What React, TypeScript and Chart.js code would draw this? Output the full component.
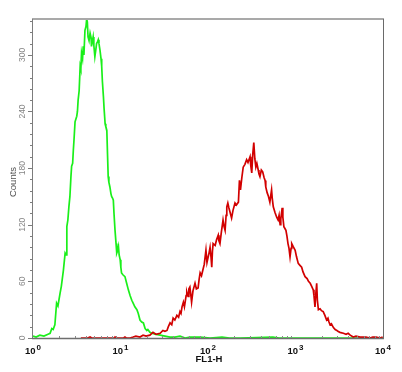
import React, { useEffect, useRef } from 'react';
import { Chart, registerables } from 'chart.js';

Chart.register(...registerables);

// ---- data ----
const X_TICK_EXPONENTS = [0, 1, 2, 3, 4];
const Y_TICKS = [0, 60, 120, 180, 240, 300];
const Y_MINOR_STEP = 12;
const Y_MAX = 338;
const X_TITLE = 'FL1-H';
const Y_TITLE = 'Counts';
const CHANNELS_PER_DECADE = 256; // 1024-channel, 4-decade log histogram

const GREEN_CH = [0, 9, 20, 32, 44, 50, 55, 59, 64, 69, 73, 79, 83, 89, 94, 97, 99, 102, 105, 108, 111, 113, 116, 118, 120, 123, 128, 130, 132, 135, 138, 140, 142, 145, 147, 149, 152, 155, 157, 159, 161, 164, 167, 170, 171, 174, 176, 178, 181, 184, 186, 189, 191, 193, 196, 199, 201, 203, 206, 208, 211, 213, 216, 218, 220, 222, 225, 228, 230, 233, 235, 237, 240, 243, 245, 247, 250, 252, 255, 257, 259, 263, 269, 274, 279, 284, 289, 293, 298, 304, 308, 313, 318, 323, 328, 333, 336, 342, 348, 357, 372, 386, 401, 415, 430, 445, 459, 489, 518, 553, 575, 606, 702, 720, 1023];
const GREEN_COUNTS = [2, 1, 3, 2, 4, 5, 10, 9, 14, 37, 34, 47, 55, 72, 90, 88, 118, 125, 139, 150, 171, 182, 185, 199, 210, 229, 235, 240, 252, 262, 288, 285, 302, 296, 309, 300, 326, 330, 338, 335, 319, 315, 323, 318, 309, 315, 319, 310, 298, 306, 312, 314, 316, 312, 305, 296, 288, 272, 256, 243, 227, 224, 220, 195, 171, 165, 160, 153, 150, 148, 146, 132, 114, 100, 90, 92, 97, 88, 83, 75, 69, 67, 65, 58, 51, 45, 40, 37, 33, 30, 26, 19, 17, 16, 10, 8, 9, 6, 5, 4, 3, 2, 1, 1, 2, 0, 1, 1, 0, 1, 0, 0, 1, 0, 0];

const RED_CH = [140, 160, 167, 172, 238, 240, 243, 265, 269, 273, 284, 293, 301, 313, 322, 331, 342, 351, 360, 372, 380, 386, 392, 396, 401, 406, 410, 415, 421, 426, 430, 433, 436, 440, 443, 448, 450, 454, 456, 459, 462, 464, 468, 474, 478, 483, 486, 489, 493, 497, 501, 506, 509, 512, 515, 518, 521, 523, 525, 527, 533, 537, 542, 544, 547, 551, 556, 559, 562, 565, 567, 570, 573, 576, 581, 585, 591, 595, 601, 604, 606, 607, 611, 615, 620, 625, 629, 635, 637, 640, 643, 646, 649, 652, 655, 659, 661, 664, 668, 672, 676, 679, 681, 685, 689, 693, 696, 698, 700, 703, 708, 713, 717, 720, 723, 725, 729, 731, 734, 737, 740, 743, 746, 749, 752, 755, 757, 761, 767, 771, 776, 781, 786, 790, 796, 802, 806, 811, 815, 820, 822, 825, 827, 830, 832, 835, 840, 844, 849, 854, 859, 863, 866, 869, 873, 879, 884, 889, 892, 898, 908, 916, 922, 928, 937, 945, 957, 966, 974, 986, 994, 1004, 1015, 1023];
const RED_COUNTS = [0, 0, 1, 0, 0, 1, 0, 0, 1, 0, 0, 1, 2, 1, 3, 2, 3, 6, 4, 5, 8, 7, 8, 12, 16, 14, 21, 19, 24, 22, 28, 26, 33, 38, 33, 45, 49, 44, 52, 54, 45, 38, 50, 58, 52, 53, 62, 69, 66, 72, 78, 93, 80, 85, 90, 96, 85, 75, 92, 100, 98, 104, 109, 103, 100, 112, 125, 118, 114, 130, 139, 143, 138, 134, 127, 135, 143, 141, 144, 167, 160, 157, 170, 181, 184, 189, 186, 192, 183, 175, 195, 207, 190, 181, 185, 178, 174, 171, 178, 176, 170, 167, 160, 154, 150, 144, 152, 157, 148, 139, 133, 128, 125, 130, 120, 126, 138, 128, 118, 116, 114, 108, 100, 95, 86, 95, 100, 97, 93, 86, 79, 77, 75, 70, 65, 63, 60, 58, 55, 51, 45, 33, 45, 58, 40, 30, 31, 29, 28, 24, 19, 21, 17, 14, 15, 11, 9, 8, 7, 6, 5, 4, 5, 3, 1, 2, 1, 1, 1, 0, 1, 1, 0, 1];

const toPoints = (ch: number[], counts: number[]) =>
  ch.map((c, i) => ({ x: Math.pow(10, c / CHANNELS_PER_DECADE), y: counts[i] }));

const FONT = '"Liberation Sans", Arial, sans-serif';

const framePlugin = {
  id: 'flowFrame',
  afterDraw(chart: any) {
    const { ctx, chartArea: a } = chart;
    const xs = chart.scales.x;
    const ys = chart.scales.y;
    ctx.save();

    // top border
    ctx.strokeStyle = '#a9a9a9';
    ctx.lineWidth = 2;
    ctx.beginPath();
    ctx.moveTo(a.left - 1, a.top);
    ctx.lineTo(a.right + 1, a.top);
    ctx.stroke();
    // right border
    ctx.strokeStyle = '#6a6a6a';
    ctx.lineWidth = 1;
    ctx.beginPath();
    ctx.moveTo(a.right + 0.5, a.top);
    ctx.lineTo(a.right + 0.5, a.bottom);
    ctx.stroke();
    // left axis
    ctx.strokeStyle = '#7c7c7c';
    ctx.beginPath();
    ctx.moveTo(a.left - 0.5, a.top);
    ctx.lineTo(a.left - 0.5, a.bottom + 1);
    ctx.stroke();
    // bottom axis
    ctx.strokeStyle = '#6e6e6e';
    ctx.lineWidth = 1.5;
    ctx.beginPath();
    ctx.moveTo(a.left - 1, a.bottom + 0.5);
    ctx.lineTo(a.right + 1, a.bottom + 0.5);
    ctx.stroke();

    // y ticks
    ctx.strokeStyle = '#7c7c7c';
    ctx.lineWidth = 1;
    for (let v = 0; v <= Y_MAX; v += Y_MINOR_STEP) {
      const y = Math.round(ys.getPixelForValue(v)) + 0.5;
      const major = Y_TICKS.includes(v);
      ctx.beginPath();
      ctx.moveTo(a.left - 1, y);
      ctx.lineTo(a.left - (major ? 5 : 3), y);
      ctx.stroke();
    }
    // x minor ticks (inward)
    ctx.strokeStyle = '#8a8a8a';
    for (let e = 0; e < X_TICK_EXPONENTS.length - 1; e++) {
      for (let m = 2; m <= 9; m++) {
        const x = Math.round(xs.getPixelForValue(m * Math.pow(10, X_TICK_EXPONENTS[e]))) + 0.5;
        ctx.beginPath();
        ctx.moveTo(x, a.bottom);
        ctx.lineTo(x, a.bottom - 2);
        ctx.stroke();
      }
    }

    // y tick labels (rotated)
    ctx.fillStyle = '#858585';
    ctx.font = `8.5px ${FONT}`;
    ctx.textAlign = 'center';
    ctx.textBaseline = 'middle';
    Y_TICKS.forEach((v) => {
      const y = ys.getPixelForValue(v);
      ctx.save();
      ctx.translate(22.5, y);
      ctx.rotate(-Math.PI / 2);
      ctx.fillText(String(v), 0, 0);
      ctx.restore();
    });

    // y title
    ctx.fillStyle = '#505050';
    ctx.font = `9.5px ${FONT}`;
    ctx.save();
    ctx.translate(13, 182);
    ctx.rotate(-Math.PI / 2);
    ctx.fillText(Y_TITLE, 0, 0);
    ctx.restore();

    // x tick labels 10^n
    ctx.fillStyle = '#111111';
    ctx.textBaseline = 'alphabetic';
    ctx.textAlign = 'left';
    X_TICK_EXPONENTS.forEach((e) => {
      const x = xs.getPixelForValue(Math.pow(10, e));
      ctx.font = `bold 9.5px ${FONT}`;
      const base = '10';
      const wb = ctx.measureText(base).width;
      ctx.font = `bold 8px ${FONT}`;
      const sup = String(e);
      const ws = ctx.measureText(sup).width;
      const total = wb + 1 + ws;
      const x0 = x - total / 2;
      ctx.font = `bold 9.5px ${FONT}`;
      ctx.fillText(base, x0, 354);
      ctx.font = `bold 8px ${FONT}`;
      ctx.fillText(sup, x0 + wb + 1, 350);
    });

    // x title
    ctx.font = `bold 9.5px ${FONT}`;
    ctx.textAlign = 'center';
    ctx.fillText(X_TITLE, (a.left + a.right) / 2 + 1, 362);

    ctx.restore();
  },
};

export default function App() {
  const ref = useRef<HTMLCanvasElement | null>(null);

  useEffect(() => {
    if (!ref.current) return;
    const chart = new Chart(ref.current, {
      type: 'line',
      data: {
        datasets: [
          {
            label: 'red',
            data: toPoints(RED_CH, RED_COUNTS),
            borderColor: '#d20000',
            borderWidth: 1.7,
            pointRadius: 0,
            tension: 0,
            fill: false,
          },
          {
            label: 'green',
            data: toPoints(GREEN_CH, GREEN_COUNTS),
            borderColor: '#1aef1a',
            borderWidth: 1.7,
            pointRadius: 0,
            tension: 0,
            fill: false,
          },
        ],
      },
      options: {
        animation: false,
        responsive: true,
        maintainAspectRatio: false,
        parsing: false as any,
        layout: { padding: { left: 33, right: 19, top: 19, bottom: 34 } },
        plugins: { legend: { display: false }, tooltip: { enabled: false } },
        scales: {
          x: { type: 'logarithmic', min: 1, max: 10000, display: false },
          y: { type: 'linear', min: 0, max: Y_MAX, display: false },
        },
      },
      plugins: [framePlugin],
    });
    return () => chart.destroy();
  }, []);

  return (
    <div style={{ position: 'fixed', left: 0, top: 0, width: 402, height: 372, background: '#ffffff' }}>
      <canvas ref={ref} />
    </div>
  );
}
